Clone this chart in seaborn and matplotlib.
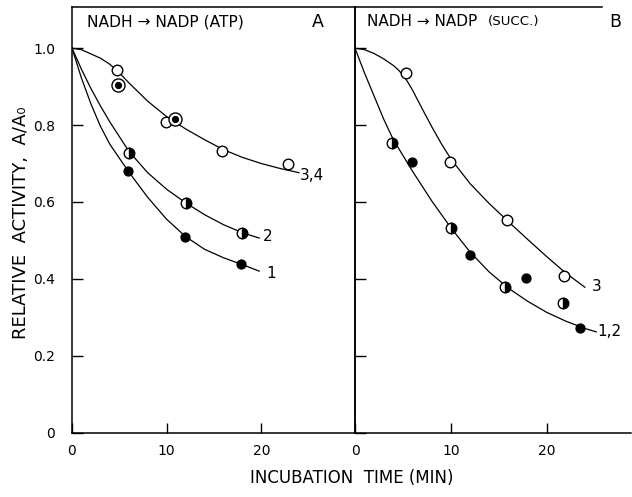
import matplotlib
matplotlib.use("Agg")
import matplotlib.pyplot as plt
import numpy as np
import pandas as pd
import seaborn as sns

# ---------------- data ----------------
# Panel A: NADH -> NADP (ATP)
a_open_t = [4.8, 9.9, 15.9, 22.8]
a_open_v = [0.944, 0.808, 0.732, 0.699]
a_dot_t = [4.9, 10.9]
a_dot_v = [0.903, 0.817]
a_half_t = [6.0, 12.0, 18.0]
a_half_v = [0.727, 0.597, 0.520]
a_fill_t = [5.9, 11.9, 17.9]
a_fill_v = [0.681, 0.510, 0.438]

a_c34_t = [0, 1, 2, 3, 4, 5, 6, 8, 10, 12, 14, 16, 18, 20, 22, 24]
a_c34_v = [1.0, 0.996, 0.985, 0.974, 0.958, 0.936, 0.91, 0.862, 0.822, 0.79,
           0.762, 0.736, 0.716, 0.70, 0.687, 0.676]
a_c2_t = [0, 1, 2, 3, 4, 6, 8, 10, 12, 14, 16, 18, 19.8]
a_c2_v = [1.0, 0.945, 0.895, 0.85, 0.808, 0.732, 0.676, 0.633, 0.598, 0.567,
          0.541, 0.520, 0.506]
a_c1_t = [0, 1, 2, 3, 4, 6, 8, 10, 12, 14, 16, 18, 19.8]
a_c1_v = [1.0, 0.922, 0.855, 0.797, 0.75, 0.678, 0.612, 0.555, 0.51, 0.477,
          0.455, 0.437, 0.42]

# Panel B: NADH -> NADP (SUCC.)
b_open_t = [5.3, 9.9, 15.9, 21.8]
b_open_v = [0.935, 0.705, 0.553, 0.408]
b_half_t = [3.9, 10.0, 15.7, 21.7]
b_half_v = [0.754, 0.532, 0.378, 0.337]
b_fill_t = [5.9, 12.0, 17.8, 23.5]
b_fill_v = [0.703, 0.462, 0.402, 0.273]

b_c3_t = [0, 1, 2, 3, 4, 4.5, 5, 5.5, 6, 6.5, 7, 8, 9, 10, 12, 14, 16, 18,
          20, 22, 24]
b_c3_v = [1.0, 0.996, 0.986, 0.972, 0.955, 0.944, 0.93, 0.912, 0.891, 0.867,
          0.843, 0.796, 0.752, 0.712, 0.648, 0.596, 0.549, 0.503, 0.458,
          0.415, 0.378]
b_c12_t = [0, 1, 2, 3, 4, 6, 8, 10, 12, 14, 16, 18, 20, 22, 24, 25.2]
b_c12_v = [1.0, 0.935, 0.875, 0.815, 0.762, 0.68, 0.603, 0.533, 0.47, 0.418,
           0.376, 0.342, 0.313, 0.29, 0.271, 0.262]

x_ticks = [0, 10, 20]
x_tick_labels = ["0", "10", "20"]
y_ticks = [0, 0.2, 0.4, 0.6, 0.8, 1.0]
y_tick_labels = ["0", "0.2", "0.4", "0.6", "0.8", "1.0"]

# ---------------- style ----------------
sns.set_theme(style="white")
plt.rcParams["font.family"] = ["DejaVu Sans"]
plt.rcParams["text.color"] = "black"

W, H = 632, 497
fig = plt.figure(figsize=(W / 100, H / 100), dpi=100)
x0A, x0B, xR = 72, 355, 631
yb, yt = 432.7, 7
axA = fig.add_axes([x0A / W, (H - yb) / H, (x0B - x0A) / W, (yb - yt) / H])
axB = fig.add_axes([x0B / W, (H - yb) / H, (xR - x0B) / W, (yb - yt) / H])

LW = 0.9


def curve(ax, t, v):
    sns.lineplot(x=t, y=v, ax=ax, estimator=None, sort=False, color="black",
                 linewidth=LW, zorder=2)


def pts(ax, t, v, ms=7.6, **kw):
    sns.lineplot(x=t, y=v, ax=ax, estimator=None, sort=False, color="black",
                 linestyle="none", marker="o", markersize=ms,
                 markeredgecolor="black", markeredgewidth=1.0, zorder=3, **kw)


# Panel A
curve(axA, a_c34_t, a_c34_v)
curve(axA, a_c2_t, a_c2_v)
curve(axA, a_c1_t, a_c1_v)
pts(axA, a_open_t, a_open_v, markerfacecolor="white")
pts(axA, a_dot_t, a_dot_v, ms=9.4, markerfacecolor="white")
pts(axA, a_dot_t, a_dot_v, ms=4.2, markerfacecolor="black")
pts(axA, a_half_t, a_half_v, fillstyle="right", markerfacecolor="black",
    markerfacecoloralt="white")
pts(axA, a_fill_t, a_fill_v, ms=6.4, markerfacecolor="black")

# Panel B
curve(axB, b_c3_t, b_c3_v)
curve(axB, b_c12_t, b_c12_v)
pts(axB, b_open_t, b_open_v, markerfacecolor="white")
pts(axB, b_half_t, b_half_v, fillstyle="right", markerfacecolor="black",
    markerfacecoloralt="white")
pts(axB, b_fill_t, b_fill_v, ms=6.4, markerfacecolor="black")

# axes formatting
for ax, xmax in ((axA, 29.9), (axB, 28.8)):
    ax.set_xlim(0, xmax)
    ax.set_ylim(0, 1.107)
    ax.set_xticks(x_ticks)
    ax.set_xticklabels(x_tick_labels)
    ax.set_yticks(y_ticks)
    ax.set_xlabel("")
    ax.set_ylabel("")
    ax.set_facecolor("white")
    ax.patch.set_alpha(0)
    for s in ax.spines.values():
        s.set_color("black")
        s.set_linewidth(1.1)
    ax.tick_params(axis="x", direction="in", length=7, width=1.0, pad=8,
                   labelsize=10, colors="black", bottom=True, top=False)
    ax.tick_params(axis="y", direction="in", length=8, width=1.0, pad=12,
                   labelsize=10, colors="black", left=True, right=False)

axA.set_yticklabels(y_tick_labels)
axB.set_yticklabels([])
axB.spines["right"].set_visible(False)
axB.spines["top"].set_bounds(0, 25.8)

# curve labels
axA.text(24.1, 0.668, "3,4", fontsize=11, ha="left", va="center")
axA.text(20.2, 0.51, "2", fontsize=11, ha="left", va="center")
axA.text(20.5, 0.415, "1", fontsize=11, ha="left", va="center")
axB.text(24.7, 0.38, "3", fontsize=11, ha="left", va="center")
axB.text(25.3, 0.263, "1,2", fontsize=11, ha="left", va="center")

# panel headings
axA.text(0.053, 0.965, "NADH \u2192 NADP (ATP)", transform=axA.transAxes,
         fontsize=11.2, ha="left", va="center")
axA.text(0.869, 0.965, "A", transform=axA.transAxes, fontsize=12.5,
         ha="center", va="center")
axB.text(0.043, 0.965, "NADH \u2192 NADP", transform=axB.transAxes,
         fontsize=11, ha="left", va="center")
axB.text(0.482, 0.965, "(SUCC.)", transform=axB.transAxes,
         fontsize=9.6, ha="left", va="center")
axB.text(0.942, 0.965, "B", transform=axB.transAxes, fontsize=12.5,
         ha="center", va="center")

# axis titles
fig.text(21 / W, 1 - 223 / H, "RELATIVE  ACTIVITY,  A/A\u2080", rotation=90,
         fontsize=13, ha="center", va="center")
fig.text(352 / W, 1 - 478 / H, "INCUBATION  TIME (MIN)", fontsize=12,
         ha="center", va="center")

fig.savefig("out.png", dpi=100, facecolor="white")
